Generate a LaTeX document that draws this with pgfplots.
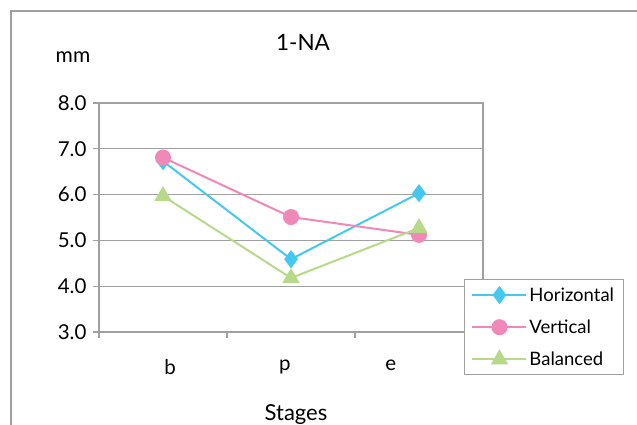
\documentclass[border=0pt]{standalone}
\usepackage{pgfplots}
\pgfplotsset{compat=1.18}
\usepackage{fontspec}
\setmainfont{Lato}
\definecolor{cH}{RGB}{69,200,240}
\definecolor{cV}{RGB}{240,136,184}
\definecolor{cB}{RGB}{184,217,138}
\definecolor{gr}{RGB}{160,160,160}
\begin{document}
\begin{tikzpicture}[x=1pt,y=1pt]
\path[use as bounding box] (0,0) rectangle (637,-425);
\draw[gr, line width=1.2pt] (11,-425) -- (11,-11) -- (637,-11);
\node[font=\fontsize{22.5}{24}\selectfont] at (303,-42) {1-NA};
\node[font=\fontsize{21}{23}\selectfont] at (73,-57) {mm};
\node[font=\fontsize{22}{24}\selectfont] at (296,-415) {Stages};
\begin{axis}[
  at={(99pt,-332pt)}, anchor=south west,
  scale only axis, width=384pt, height=229pt,
  xmin=-0.5, xmax=2.5, ymin=3, ymax=8,
  xtick={-0.5,0.5,1.5,2.5}, xticklabels={},
  extra x ticks={0.055,0.953,1.78},
  extra x tick labels={b,p,e},
  extra x tick style={major tick length=0pt, grid=none,
    tick label style={yshift=-24pt}},
  ytick={3,4,5,6,7,8},
  ymajorgrids, 
  grid style={gr, line width=1.2pt},
  axis line style={gr, line width=1.2pt},
  tick style={gr, line width=1.2pt},
  tick align=outside, major tick length=6pt,
  xtick pos=bottom, ytick pos=left,
  yticklabel style={/pgf/number format/fixed, /pgf/number format/fixed zerofill, /pgf/number format/precision=1, xshift=-3pt},
  /pgf/number format/assume math mode=true,
  tick label style={font=\fontsize{20.5}{22}\selectfont, text=black},
  legend style={at={(0.9505,0.2314)}, anchor=north west, draw=gr, line width=1pt,
    font=\fontsize{18.5}{20}\selectfont, row sep=13pt, inner xsep=7pt, inner ysep=6pt},
  legend cell align=left,
  legend image code/.code={\draw[line width=2pt, mark repeat=2,mark phase=2] plot coordinates {(0pt,0pt)(27pt,0pt)(54pt,0pt)};},
  every axis plot/.append style={line width=2pt, mark options={solid}},
]
\addplot[cH, mark=diamond*, mark size=7.5pt] coordinates {(0,6.73) (1,4.59) (2,6.03)};
\addlegendentry{Horizontal}
\addplot[cV, mark=*, mark size=7pt] coordinates {(0,6.81) (1,5.51) (2,5.12)};
\addlegendentry{Vertical}
\addplot[cB, mark=triangle*, mark size=8pt] coordinates {(0,5.97) (1,4.18) (2,5.27)};
\addlegendentry{Balanced}
\end{axis}
\end{tikzpicture}
\end{document}
